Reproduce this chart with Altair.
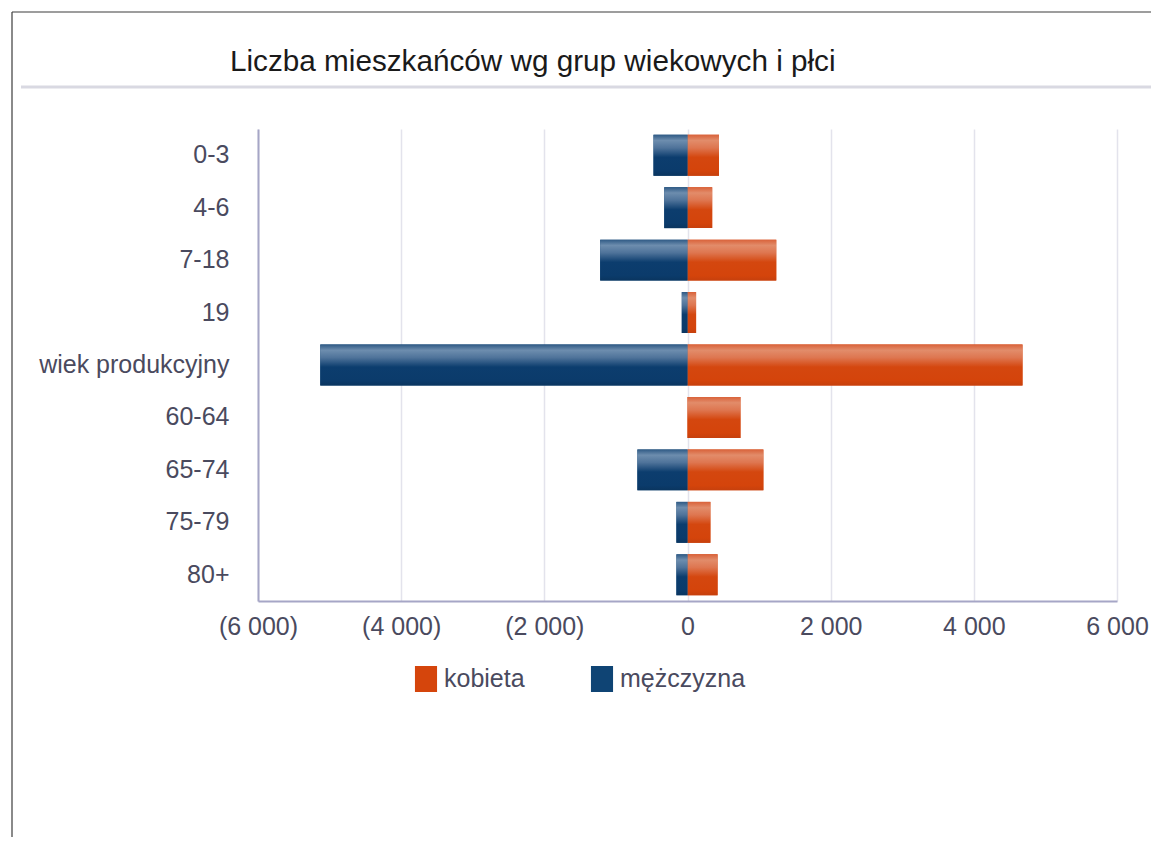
import altair as alt
import pandas as pd

groups = ["0-3", "4-6", "7-18", "19", "wiek produkcyjny", "60-64", "65-74", "75-79", "80+"]
kobieta = [440, 345, 1240, 120, 4680, 740, 1060, 320, 420]
mezczyzna = [475, 325, 1220, 80, 5130, 0, 700, 155, 155]
series = ["kobieta", "mężczyzna"]
series_colors = ["#d5450c", "#0f4474"]
x_ticks = [-6000, -4000, -2000, 0, 2000, 4000, 6000]
title_text = "Liczba mieszkańców wg grup wiekowych i płci"

rows = []
for g, k, m in zip(groups, kobieta, mezczyzna):
    rows.append({"group": g, "sex": "kobieta", "value": k})
    rows.append({"group": g, "sex": "mężczyzna", "value": -m})
df = pd.DataFrame(rows)

FONT = "Liberation Sans, Arial, sans-serif"
LABEL_COLOR = "#4a4a5e"
AXIS_LINE = "#a6a6c6"

x_enc = alt.X(
    "value:Q",
    stack=None,
    scale=alt.Scale(domain=[-6000, 6000], nice=False, zero=True),
    axis=alt.Axis(
        values=x_ticks,
        title=None,
        grid=True,
        gridColor="#e3e3ec",
        gridWidth=1.5,
        ticks=False,
        domain=True,
        domainColor=AXIS_LINE,
        domainWidth=2,
        labelFont=FONT,
        labelFontSize=25,
        labelColor=LABEL_COLOR,
        labelPadding=13,
        labelFlush=False,
        labelOverlap=False,
        labelExpr="datum.value < 0 ? '(' + replace(format(-datum.value, ','), ',', ' ') + ')' : replace(format(datum.value, ','), ',', ' ')",
    ),
)
y_enc = alt.Y(
    "group:N",
    sort=groups,
    scale=alt.Scale(paddingInner=0.22, paddingOuter=0.11),
    axis=alt.Axis(
        title=None,
        ticks=False,
        grid=False,
        domain=True,
        domainColor=AXIS_LINE,
        domainWidth=2,
        labelFont=FONT,
        labelFontSize=25,
        labelColor=LABEL_COLOR,
        labelAlign="right",
        labelPadding=29,
        labelLimit=400,
    ),
)

base = alt.Chart(df).mark_bar().encode(
    x=x_enc,
    y=y_enc,
    color=alt.Color(
        "sex:N",
        scale=alt.Scale(domain=series, range=series_colors),
        legend=alt.Legend(
            title=None,
            orient="none",
            direction="horizontal",
            legendX=155,
            legendY=537,
            symbolType="M-0.85,-1L0.85,-1L0.85,1L-0.85,1Z",
            symbolSize=676,
            symbolStrokeWidth=0,
            symbolOpacity=1,
            labelFont=FONT,
            labelFontSize=25,
            labelColor=LABEL_COLOR,
            labelOffset=5,
            columnPadding=64,
        ),
    ),
)

grad_orange = alt.LinearGradient(
    gradient="linear",
    x1=0, x2=0, y1=0, y2=1,
    stops=[
        alt.GradientStop(offset=0, color="#d9623a"),
        alt.GradientStop(offset=0.14, color="#e28c6a"),
        alt.GradientStop(offset=0.32, color="#de7650"),
        alt.GradientStop(offset=0.55, color="#d4470f"),
        alt.GradientStop(offset=0.88, color="#d4440b"),
        alt.GradientStop(offset=1, color="#c6400d"),
    ],
)
grad_blue = alt.LinearGradient(
    gradient="linear",
    x1=0, x2=0, y1=0, y2=1,
    stops=[
        alt.GradientStop(offset=0, color="#2f5a85"),
        alt.GradientStop(offset=0.14, color="#6d8dae"),
        alt.GradientStop(offset=0.32, color="#4f739a"),
        alt.GradientStop(offset=0.55, color="#0c3d6e"),
        alt.GradientStop(offset=0.88, color="#0b3b6b"),
        alt.GradientStop(offset=1, color="#0a355f"),
    ],
)

female = alt.Chart(df).transform_filter(alt.datum.sex == "kobieta").mark_bar(
    color=grad_orange
).encode(x=x_enc, y=y_enc)
male = alt.Chart(df).transform_filter(alt.datum.sex == "mężczyzna").mark_bar(
    color=grad_blue
).encode(x=x_enc, y=y_enc)

deco = pd.DataFrame({"k": [0]})
border_left = alt.Chart(deco).mark_rule(color="#3c3c3c", strokeWidth=1.2).encode(
    x=alt.value(-246), y=alt.value(-117), y2=alt.value(708)
)
border_top = alt.Chart(deco).mark_rule(color="#3c3c3c", strokeWidth=1.2).encode(
    x=alt.value(-246), x2=alt.value(893), y=alt.value(-117)
)
title_rule = alt.Chart(deco).mark_rule(color="#d9d9e2", strokeWidth=3).encode(
    x=alt.value(-237), x2=alt.value(893), y=alt.value(-42)
)
title = alt.Chart(deco).mark_text(
    align="left", baseline="middle", font=FONT, fontSize=29.7, color="#1a1a1a"
).encode(x=alt.value(-28), y=alt.value(-67), text=alt.value(title_text))

chart = (
    alt.layer(base, female, male, border_left, border_top, title_rule, title)
    .properties(width=859, height=472, padding={"left": 3, "top": 3, "right": 0, "bottom": 0})
    .configure_view(strokeWidth=0)
)

chart.save("out.html", embed_options={"renderer": "svg", "actions": False})
